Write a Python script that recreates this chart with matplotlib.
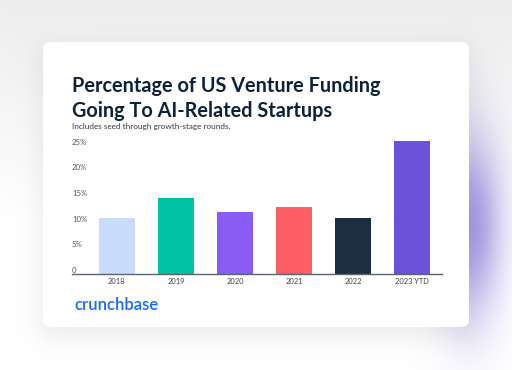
import numpy as np
import matplotlib
matplotlib.use("Agg")
import matplotlib.pyplot as plt
from matplotlib.patches import FancyBboxPatch

# data
years = ["2018", "2019", "2020", "2021", "2022", "2023 YTD"]
share = [11.0, 14.9, 12.0, 13.0, 11.0, 25.9]
bar_colors = ["#cadcfb", "#00c3a5", "#8a5cf6", "#ff5e67", "#1b2f40", "#6c52d8"]
yticks = [0, 5, 10, 15, 20, 25]
ytick_labels = ["0", "5%", "10%", "15%", "20%", "25%"]

W, H = 512, 370
fig = plt.figure(figsize=(W / 100, H / 100), dpi=100)


def px(x, y):
    """pixel coords (top-left origin) -> figure fraction"""
    return x / W, 1 - y / H


# background: light grey, soft card shadow, purple glow on the right
bg = fig.add_axes([0, 0, 1, 1])
bg.set_axis_off()
xx, yy = np.meshgrid(np.arange(W) + 0.5, np.arange(H) + 0.5)


def soft_box(x0, x1, y0, y1, s):
    fx = 0.5 * (np.tanh((xx - x0) / s) - np.tanh((xx - x1) / s))
    fy = 0.5 * (np.tanh((yy - y0) / s) - np.tanh((yy - y1) / s))
    return fx * fy


img = np.ones((H, W, 3))
top_grey = np.clip(1 - yy / 220, 0, 1) * 0.07
img -= top_grey[..., None]
shadow = soft_box(40, 472, 46, 338, 14)
img -= 0.07 * shadow[..., None]
glow = np.exp(-(((xx - 470) / 32) ** 2 + ((yy - 225) / 90) ** 2))
purple = np.array([0.57, 0.52, 0.85])
img = img * (1 - 0.85 * glow[..., None]) + purple * 0.85 * glow[..., None]
bg.imshow(np.clip(img, 0, 1), extent=[0, 1, 0, 1], aspect="auto", zorder=0)

# white card
cx0, cy0 = px(43, 327)
cx1, cy1 = px(469, 42)
card = FancyBboxPatch((cx0, cy0), cx1 - cx0, cy1 - cy0,
                      boxstyle="round,pad=0,rounding_size=0.018",
                      transform=fig.transFigure, facecolor="white",
                      edgecolor="none", zorder=1)
bg.add_patch(card)

# titles
title_font = ["Lato", "DejaVu Sans"]
fig.text(*px(72, 91.7), "Percentage of US Venture Funding", fontsize=14.3,
         fontweight="bold", color="#0b2238", va="baseline", family=title_font)
fig.text(*px(72, 117.3), "Going To AI-Related Startups", fontsize=14.3,
         fontweight="bold", color="#0b2238", va="baseline", family=title_font)
fig.text(*px(72, 129.5), "Includes seed through growth-stage rounds.",
         fontsize=5.9, color="#3a3a3a", va="baseline", family="Lato")

# chart
ax_l, ax_b = px(72, 274)
ax_r, ax_t = px(442, 139)
ax = fig.add_axes([ax_l, ax_b, ax_r - ax_l, ax_t - ax_b])
ax.patch.set_alpha(0)
x = np.arange(len(years))
ax.bar(x, share, width=0.62, color=bar_colors, zorder=2)
ax.set_xlim(-0.76, 5.51)
ax.set_ylim(0, 26.3)

for s in ["top", "right", "left"]:
    ax.spines[s].set_visible(False)
ax.spines["bottom"].set_color("#5a6470")
ax.spines["bottom"].set_linewidth(1.0)
ax.spines["bottom"].set_zorder(3)

ax.set_xticks(x)
ax.set_xticklabels(years, fontsize=5.4, color="#444444", family="Lato")
ax.tick_params(axis="x", length=0, pad=3)
ax.set_yticks([])
for v, lab in zip(yticks, ytick_labels):
    ax.text(0, v, lab, transform=ax.get_yaxis_transform(),
            ha="left", va="bottom", fontsize=5.6, color="#555555",
            family="Lato")

# logo wordmark
fig.text(*px(74, 309.5), "crunchbase", fontsize=12, color="#146aff",
         va="baseline", family="Lato", fontweight="semibold")

fig.savefig("out.png", dpi=100)
